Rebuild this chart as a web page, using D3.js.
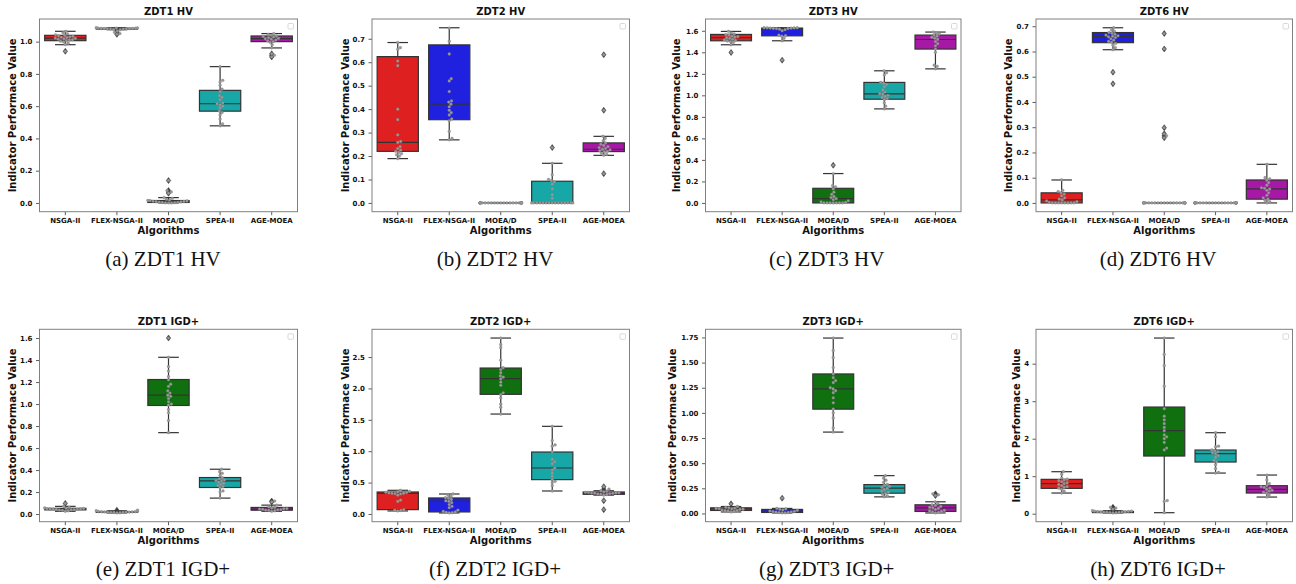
<!DOCTYPE html>
<html>
<head>
<meta charset="utf-8">
<script src="https://cdn.jsdelivr.net/npm/d3@7"></script>
<style>
  body { margin: 0; background: #fff; }
  svg { display: block; }
  text { font-family: "DejaVu Sans", sans-serif; }
</style>
</head>
<body>
<svg id="chart" width="1296" height="584"></svg>
<script>

var algorithms = ["NSGA-II", "FLEX-NSGA-II", "MOEA/D", "SPEA-II", "AGE-MOEA"];
var boxColors = ["#df2020", "#2020df", "#107010", "#18a7a7", "#a718a7"];

// box stats per algorithm: [whisker low, q1, median, q3, whisker high]
// ZDT1 HV
var zdt1HvStats = [[0.981, 1.006, 1.022, 1.039, 1.064], [1.074, 1.078, 1.081, 1.083, 1.086], [0, 0.003, 0.008, 0.015, 0.033], [0.478, 0.569, 0.615, 0.698, 0.845], [0.961, 1.0, 1.019, 1.035, 1.05]];
var zdt1HvOutliers = [[0.94], [1.066, 1.058, 1.05, 1.045], [0.139, 0.077, 0.068, 0.06], [], [0.925, 0.915, 0.905]];
var zdt1HvPoints = [
  [0.982, 0.99, 0.998, 1.003, 1.006, 1.01, 1.012, 1.015, 1.018, 1.02, 1.022, 1.025, 1.027, 1.03, 1.033, 1.036, 1.039, 1.042, 1.048, 1.055, 1.064],
  [1.074, 1.076, 1.078, 1.079, 1.08, 1.08, 1.081, 1.081, 1.082, 1.082, 1.083, 1.083, 1.084, 1.085, 1.086],
  [0, 0, 0.001, 0.002, 0.003, 0.004, 0.005, 0.006, 0.008, 0.009, 0.01, 0.012, 0.014, 0.015, 0.018, 0.022, 0.028, 0.033],
  [0.478, 0.49, 0.52, 0.545, 0.56, 0.57, 0.59, 0.6, 0.61, 0.615, 0.62, 0.64, 0.655, 0.665, 0.69, 0.705, 0.73, 0.75, 0.76, 0.845],
  [0.961, 0.98, 0.995, 1.0, 1.005, 1.01, 1.015, 1.018, 1.02, 1.024, 1.028, 1.032, 1.035, 1.04, 1.045, 1.05]
];
var zdt1HvTicks = [0, 0.2, 0.4, 0.6, 0.8, 1.0];

// ZDT2 HV
var zdt2HvStats = [[0.189, 0.22, 0.258, 0.624, 0.684], [0.269, 0.355, 0.421, 0.674, 0.747], [0, 0, 0, 0, 0], [0, 0, 0, 0.0925, 0.169], [0.203, 0.219, 0.229, 0.256, 0.284]];
var zdt2HvOutliers = [[], [], [], [0.236], [0.632, 0.395, 0.125]];
var zdt2HvPoints = [
  [0.189, 0.2, 0.205, 0.21, 0.215, 0.22, 0.225, 0.232, 0.24, 0.258, 0.262, 0.29, 0.355, 0.4, 0.585, 0.605, 0.655, 0.662, 0.684],
  [0.269, 0.275, 0.305, 0.35, 0.358, 0.375, 0.385, 0.395, 0.41, 0.421, 0.43, 0.435, 0.475, 0.52, 0.53, 0.635, 0.69, 0.745],
  [0, 0, 0, 0, 0, 0, 0, 0, 0, 0, 0, 0, 0, 0, 0, 0, 0, 0, 0, 0, 0, 0, 0, 0, 0, 0, 0, 0, 0, 0],
  [0, 0, 0, 0, 0, 0, 0, 0, 0, 0, 0, 0, 0, 0, 0, 0.02, 0.035, 0.06, 0.08, 0.09, 0.095, 0.1, 0.12, 0.169],
  [0.203, 0.207, 0.212, 0.218, 0.22, 0.223, 0.226, 0.229, 0.232, 0.236, 0.24, 0.245, 0.25, 0.256, 0.265, 0.275, 0.284]
];
var zdt2HvTicks = [0, 0.1, 0.2, 0.3, 0.4, 0.5, 0.6, 0.7];

// ZDT3 HV
var zdt3HvStats = [[1.47, 1.507, 1.535, 1.566, 1.594], [1.507, 1.553, 1.62, 1.625, 1.628], [0, 0, 0.04, 0.136, 0.273], [0.874, 0.964, 1.014, 1.12, 1.228], [1.246, 1.43, 1.519, 1.56, 1.588]];
var zdt3HvOutliers = [[1.398], [1.327], [0.35], [], []];
var zdt3HvPoints = [
  [1.47, 1.49, 1.5, 1.505, 1.51, 1.515, 1.52, 1.53, 1.535, 1.54, 1.545, 1.55, 1.56, 1.565, 1.57, 1.58, 1.594],
  [1.507, 1.53, 1.55, 1.555, 1.56, 1.6, 1.61, 1.615, 1.62, 1.62, 1.622, 1.624, 1.625, 1.626, 1.627, 1.628, 1.628],
  [0, 0, 0, 0, 0, 0, 0, 0.005, 0.01, 0.02, 0.03, 0.04, 0.05, 0.06, 0.08, 0.1, 0.13, 0.15, 0.16, 0.27],
  [0.874, 0.9, 0.93, 0.96, 0.97, 0.98, 0.99, 1.0, 1.01, 1.015, 1.03, 1.05, 1.08, 1.1, 1.11, 1.12, 1.19, 1.21, 1.228],
  [1.246, 1.27, 1.28, 1.4, 1.43, 1.46, 1.48, 1.5, 1.52, 1.53, 1.54, 1.55, 1.56, 1.57, 1.58, 1.588]
];
var zdt3HvTicks = [0, 0.2, 0.4, 0.6, 0.8, 1.0, 1.2, 1.4, 1.6];

// ZDT6 HV
var zdt6HvStats = [[0, 0, 0.012, 0.04, 0.091], [0.607, 0.635, 0.66, 0.675, 0.694], [0, 0, 0, 0, 0], [0, 0, 0, 0, 0], [0, 0.015, 0.056, 0.091, 0.153]];
var zdt6HvOutliers = [[], [0.518, 0.472], [0.671, 0.61, 0.298, 0.274, 0.266, 0.258], [], []];
var zdt6HvPoints = [
  [0, 0, 0, 0, 0, 0, 0, 0, 0.002, 0.005, 0.008, 0.012, 0.015, 0.02, 0.028, 0.035, 0.04, 0.045, 0.05, 0.091],
  [0.607, 0.615, 0.625, 0.632, 0.636, 0.64, 0.645, 0.65, 0.655, 0.658, 0.66, 0.662, 0.665, 0.668, 0.672, 0.675, 0.68, 0.685, 0.694],
  [0, 0, 0, 0, 0, 0, 0, 0, 0, 0, 0, 0, 0, 0, 0, 0, 0, 0, 0, 0, 0, 0, 0, 0],
  [0, 0, 0, 0, 0, 0, 0, 0, 0, 0, 0, 0, 0, 0, 0, 0, 0, 0, 0, 0, 0, 0, 0, 0, 0, 0, 0, 0, 0, 0],
  [0, 0.005, 0.01, 0.015, 0.02, 0.03, 0.04, 0.05, 0.055, 0.058, 0.06, 0.07, 0.08, 0.09, 0.095, 0.1, 0.153]
];
var zdt6HvTicks = [0, 0.1, 0.2, 0.3, 0.4, 0.5, 0.6, 0.7];

// ZDT1 IGD+
var zdt1IgdStats = [[0.025, 0.038, 0.045, 0.052, 0.07], [0.01, 0.015, 0.018, 0.022, 0.03], [0.74, 0.987, 1.081, 1.223, 1.425], [0.145, 0.2415, 0.302, 0.332, 0.4075], [0.025, 0.035, 0.045, 0.06, 0.081]];
var zdt1IgdOutliers = [[0.097], [0.035], [1.6], [], [0.118, 0.11]];
var zdt1IgdPoints = [
  [0.025, 0.03, 0.034, 0.037, 0.039, 0.041, 0.043, 0.044, 0.045, 0.046, 0.047, 0.048, 0.05, 0.052, 0.055, 0.06, 0.07],
  [0.01, 0.012, 0.014, 0.015, 0.016, 0.017, 0.018, 0.018, 0.019, 0.02, 0.021, 0.022, 0.024, 0.026, 0.03],
  [0.74, 0.85, 0.92, 0.95, 0.99, 1.0, 1.02, 1.05, 1.07, 1.08, 1.1, 1.12, 1.16, 1.18, 1.22, 1.25, 1.3, 1.34, 1.425],
  [0.145, 0.2, 0.21, 0.24, 0.25, 0.26, 0.27, 0.28, 0.29, 0.3, 0.305, 0.31, 0.32, 0.33, 0.35, 0.37, 0.385, 0.4075],
  [0.025, 0.03, 0.033, 0.036, 0.038, 0.04, 0.043, 0.045, 0.048, 0.05, 0.055, 0.06, 0.065, 0.081]
];
var zdt1IgdTicks = [0, 0.2, 0.4, 0.6, 0.8, 1.0, 1.2, 1.4, 1.6];

// ZDT2 IGD+
var zdt2IgdStats = [[0.048, 0.069, 0.329, 0.35, 0.377], [0.016, 0.032, 0.2, 0.255, 0.318], [1.592, 1.906, 2.155, 2.325, 2.803], [0.366, 0.547, 0.732, 0.987, 1.396], [0.3, 0.313, 0.33, 0.35, 0.37]];
var zdt2IgdOutliers = [[], [], [], [], [0.435, 0.395, 0.212, 0.069]];
var zdt2IgdPoints = [
  [0.048, 0.055, 0.06, 0.069, 0.2, 0.22, 0.3, 0.32, 0.325, 0.329, 0.33, 0.335, 0.34, 0.345, 0.35, 0.36, 0.377],
  [0.016, 0.02, 0.025, 0.032, 0.04, 0.06, 0.1, 0.12, 0.15, 0.18, 0.2, 0.21, 0.23, 0.25, 0.26, 0.28, 0.3, 0.318],
  [1.592, 1.7, 1.75, 1.85, 1.9, 1.93, 2.05, 2.1, 2.15, 2.18, 2.2, 2.25, 2.3, 2.33, 2.45, 2.65, 2.7, 2.803],
  [0.366, 0.45, 0.5, 0.52, 0.55, 0.6, 0.65, 0.7, 0.73, 0.8, 0.83, 0.87, 0.99, 1.08, 1.1, 1.17, 1.396],
  [0.3, 0.31, 0.315, 0.32, 0.325, 0.328, 0.33, 0.332, 0.335, 0.338, 0.34, 0.345, 0.35, 0.36, 0.37]
];
var zdt2IgdTicks = [0, 0.5, 1.0, 1.5, 2.0, 2.5];

// ZDT3 IGD+
var zdt3IgdStats = [[0.015, 0.03, 0.045, 0.056, 0.069], [0.005, 0.01, 0.02, 0.04, 0.05], [0.809, 1.037, 1.238, 1.387, 1.744], [0.165, 0.2015, 0.251, 0.287, 0.376], [0.005, 0.02, 0.056, 0.086, 0.116]];
var zdt3IgdOutliers = [[0.096], [0.152], [], [], [0.195, 0.185, 0.178]];
var zdt3IgdPoints = [
  [0.015, 0.02, 0.025, 0.028, 0.03, 0.035, 0.04, 0.042, 0.045, 0.048, 0.05, 0.053, 0.056, 0.06, 0.069],
  [0.005, 0.006, 0.008, 0.01, 0.012, 0.015, 0.018, 0.02, 0.024, 0.03, 0.035, 0.04, 0.045, 0.05],
  [0.809, 0.85, 0.95, 1.0, 1.037, 1.1, 1.15, 1.2, 1.22, 1.238, 1.25, 1.3, 1.32, 1.35, 1.387, 1.45, 1.55, 1.62, 1.744],
  [0.165, 0.175, 0.19, 0.2, 0.21, 0.22, 0.24, 0.25, 0.26, 0.27, 0.28, 0.29, 0.31, 0.33, 0.35, 0.376],
  [0.005, 0.01, 0.015, 0.02, 0.025, 0.03, 0.04, 0.05, 0.056, 0.06, 0.07, 0.08, 0.086, 0.1, 0.116]
];
var zdt3IgdTicks = [0, 0.25, 0.5, 0.75, 1.0, 1.25, 1.5, 1.75];

// ZDT6 IGD+
var zdt6IgdStats = [[0.551, 0.676, 0.8, 0.916, 1.12], [0.02, 0.03, 0.045, 0.06, 0.08], [0.027, 1.538, 2.213, 2.844, 4.684], [1.084, 1.378, 1.6, 1.698, 2.16], [0.444, 0.551, 0.649, 0.747, 1.031]];
var zdt6IgdOutliers = [[], [0.12, 0.15, 0.17], [], [], []];
var zdt6IgdPoints = [
  [0.551, 0.6, 0.65, 0.68, 0.7, 0.72, 0.75, 0.78, 0.8, 0.82, 0.85, 0.88, 0.9, 0.92, 0.95, 1.05, 1.12],
  [0.02, 0.025, 0.03, 0.035, 0.04, 0.042, 0.045, 0.048, 0.05, 0.055, 0.06, 0.065, 0.07, 0.08],
  [0.027, 0.33, 0.35, 1.7, 1.75, 1.9, 2.0, 2.05, 2.1, 2.213, 2.3, 2.4, 2.5, 2.6, 2.8, 3.4, 3.95, 4.25, 4.684],
  [1.084, 1.1, 1.2, 1.3, 1.378, 1.42, 1.5, 1.55, 1.6, 1.62, 1.65, 1.68, 1.7, 1.78, 1.8, 2.05, 2.16],
  [0.444, 0.5, 0.55, 0.57, 0.6, 0.62, 0.649, 0.68, 0.7, 0.72, 0.75, 0.8, 0.9, 1.031]
];
var zdt6IgdTicks = [0, 1, 2, 3, 4];

var panels = [
  { title: "ZDT1 HV", caption: "(a) ZDT1 HV", stats: zdt1HvStats, outliers: zdt1HvOutliers, points: zdt1HvPoints, ticks: zdt1HvTicks, fmt: ".1f" },
  { title: "ZDT2 HV", caption: "(b) ZDT2 HV", stats: zdt2HvStats, outliers: zdt2HvOutliers, points: zdt2HvPoints, ticks: zdt2HvTicks, fmt: ".1f" },
  { title: "ZDT3 HV", caption: "(c) ZDT3 HV", stats: zdt3HvStats, outliers: zdt3HvOutliers, points: zdt3HvPoints, ticks: zdt3HvTicks, fmt: ".1f" },
  { title: "ZDT6 HV", caption: "(d) ZDT6 HV", stats: zdt6HvStats, outliers: zdt6HvOutliers, points: zdt6HvPoints, ticks: zdt6HvTicks, fmt: ".1f" },
  { title: "ZDT1 IGD+", caption: "(e) ZDT1 IGD+", stats: zdt1IgdStats, outliers: zdt1IgdOutliers, points: zdt1IgdPoints, ticks: zdt1IgdTicks, fmt: ".1f" },
  { title: "ZDT2 IGD+", caption: "(f) ZDT2 IGD+", stats: zdt2IgdStats, outliers: zdt2IgdOutliers, points: zdt2IgdPoints, ticks: zdt2IgdTicks, fmt: ".1f" },
  { title: "ZDT3 IGD+", caption: "(g) ZDT3 IGD+", stats: zdt3IgdStats, outliers: zdt3IgdOutliers, points: zdt3IgdPoints, ticks: zdt3IgdTicks, fmt: ".2f" },
  { title: "ZDT6 IGD+", caption: "(h) ZDT6 IGD+", stats: zdt6IgdStats, outliers: zdt6IgdOutliers, points: zdt6IgdPoints, ticks: zdt6IgdTicks, fmt: "d" }
];

// layout of the 2x4 grid
var colLeft = [39.5, 372, 705.5, 1036];
var colRight = [297.5, 629.5, 961, 1292.5];
var rowTop = [19, 329.3];
var rowBottom = [211.7, 521.7];
var ylabelX = [[12.7, 345, 676.7, 1008.3], [12.7, 345, 672.7, 1016.7]];
var captionX = [163, 495, 826.7, 1158];

var lineColor = "#333";
var svg = d3.select("#chart");

// simple beeswarm: place each point as close to the centre as it can go without overlap
function swarm(values, y, cx, half, d) {
  var placed = [];
  values.slice().sort(d3.ascending).forEach(function(v) {
    var py = y(v);
    var near = placed.filter(function(p) { return Math.abs(p.y - py) < d; });
    var cands = [0];
    near.forEach(function(p) {
      var dx = Math.sqrt(d * d - (p.y - py) * (p.y - py));
      cands.push(p.x + dx, p.x - dx);
    });
    cands.sort(function(a, b) { return Math.abs(a) - Math.abs(b); });
    var x = null;
    for (var k = 0; k < cands.length; k++) {
      var c = cands[k];
      var ok = near.every(function(p) { return (p.x - c) * (p.x - c) + (p.y - py) * (p.y - py) >= d * d - 0.01; });
      if (ok) { x = c; break; }
    }
    if (x === null) x = 0;
    placed.push({ x: x, y: py });
  });
  return placed.map(function(p) { return { x: cx + Math.max(-half, Math.min(half, p.x)), y: p.y }; });
}

panels.forEach(function(p, i) {
  var row = Math.floor(i / 4), col = i % 4;
  var left = colLeft[col], right = colRight[col], top = rowTop[row], bottom = rowBottom[row];

  var all = [];
  p.stats.forEach(function(s) { all = all.concat(s); });
  p.outliers.forEach(function(o) { all = all.concat(o); });
  p.points.forEach(function(o) { all = all.concat(o); });
  var ext = d3.extent(all), pad = (ext[1] - ext[0]) * 0.05;

  var x = d3.scaleBand().domain(algorithms).range([left, right]).paddingInner(0.2).paddingOuter(0.1);
  var y = d3.scaleLinear().domain([ext[0] - pad, ext[1] + pad]).range([bottom, top]);
  var bw = x.bandwidth();

  var g = svg.append("g");

  // boxes
  algorithms.forEach(function(a, j) {
    var s = p.stats[j];
    var x0 = x(a), cx = x0 + bw / 2;
    var bg = g.append("g");
    bg.append("line").attr("x1", cx).attr("x2", cx).attr("y1", y(s[0])).attr("y2", y(s[1]))
      .attr("stroke", lineColor).attr("stroke-width", 1.2);
    bg.append("line").attr("x1", cx).attr("x2", cx).attr("y1", y(s[3])).attr("y2", y(s[4]))
      .attr("stroke", lineColor).attr("stroke-width", 1.2);
    [s[0], s[4]].forEach(function(v) {
      bg.append("line").attr("x1", cx - bw / 4).attr("x2", cx + bw / 4).attr("y1", y(v)).attr("y2", y(v))
        .attr("stroke", lineColor).attr("stroke-width", 1.2);
    });
    bg.append("rect").attr("x", x0).attr("width", bw)
      .attr("y", y(s[3])).attr("height", Math.max(0, y(s[1]) - y(s[3])))
      .attr("fill", boxColors[j]).attr("stroke", lineColor).attr("stroke-width", 1.2);
    bg.append("line").attr("x1", x0).attr("x2", x0 + bw).attr("y1", y(s[2])).attr("y2", y(s[2]))
      .attr("stroke", lineColor).attr("stroke-width", 1.2);

    bg.selectAll("path.flier").data(p.outliers[j]).enter().append("path")
      .attr("class", "flier")
      .attr("d", "M0,-3L2.2,0L0,3L-2.2,0Z")
      .attr("transform", function(v) { return "translate(" + cx + "," + y(v) + ")"; })
      .attr("fill", "#3d3d3d").attr("stroke", "#3d3d3d").attr("stroke-width", 0.5);
  });

  // swarm points
  algorithms.forEach(function(a, j) {
    var cx = x(a) + bw / 2;
    var pts = swarm(p.points[j].concat(p.outliers[j]), y, cx, bw / 2, 3.1);
    g.selectAll(null).data(pts).enter().append("circle")
      .attr("cx", function(d) { return d.x; })
      .attr("cy", function(d) { return d.y; })
      .attr("r", 1.4)
      .attr("fill", "#9a9a9a")
      .attr("stroke", "#7a7a7a")
      .attr("stroke-width", 0.3);
  });

  // axes
  var yAxis = d3.axisLeft(y).tickValues(p.ticks).tickFormat(d3.format(p.fmt)).tickSize(3.5).tickPadding(3.5);
  var ya = g.append("g").attr("transform", "translate(" + left + ",0)").call(yAxis);
  var xAxis = d3.axisBottom(x).tickSize(3.5).tickPadding(3);
  var xa = g.append("g").attr("transform", "translate(0," + bottom + ")").call(xAxis);
  [ya, xa].forEach(function(ax) {
    ax.select(".domain").remove();
    ax.selectAll(".tick line").attr("stroke", lineColor).attr("stroke-width", 0.8);
    ax.selectAll(".tick text").attr("fill", "#111").style("font-size", "7px").style("font-weight", "bold")
      .style("font-family", "'DejaVu Sans', sans-serif");
  });

  // frame
  g.append("rect").attr("x", left).attr("y", top).attr("width", right - left).attr("height", bottom - top)
    .attr("fill", "none").attr("stroke", "#808080").attr("stroke-width", 1);

  // empty legend box
  g.append("rect").attr("x", right - 9.5).attr("y", top + 4.5).attr("width", 5.5).attr("height", 5.5)
    .attr("rx", 1).attr("fill", "#fff").attr("stroke", "#cfcfcf").attr("stroke-width", 0.8);

  // titles and labels
  g.append("text").attr("x", (left + right) / 2).attr("y", top - 4.5)
    .attr("text-anchor", "middle").style("font-size", "10px").style("font-weight", "bold").attr("fill", "#111")
    .text(p.title);
  g.append("text").attr("x", (left + right) / 2).attr("y", bottom + 22)
    .attr("text-anchor", "middle").style("font-size", "10px").style("font-weight", "bold").attr("fill", "#111")
    .text("Algorithms");
  g.append("text")
    .attr("transform", "translate(" + ylabelX[row][col] + "," + (top + bottom) / 2 + ") rotate(-90)")
    .attr("dy", "0.35em").attr("text-anchor", "middle")
    .style("font-size", "10px").style("font-weight", "bold").attr("fill", "#111")
    .text("Indicator Performace Value");
  g.append("text").attr("x", captionX[col]).attr("y", bottom + 54)
    .attr("text-anchor", "middle")
    .style("font-family", "'Liberation Serif', 'Times New Roman', serif").style("font-size", "21px").attr("fill", "#111")
    .text(p.caption);
});
</script>
</body>
</html>
